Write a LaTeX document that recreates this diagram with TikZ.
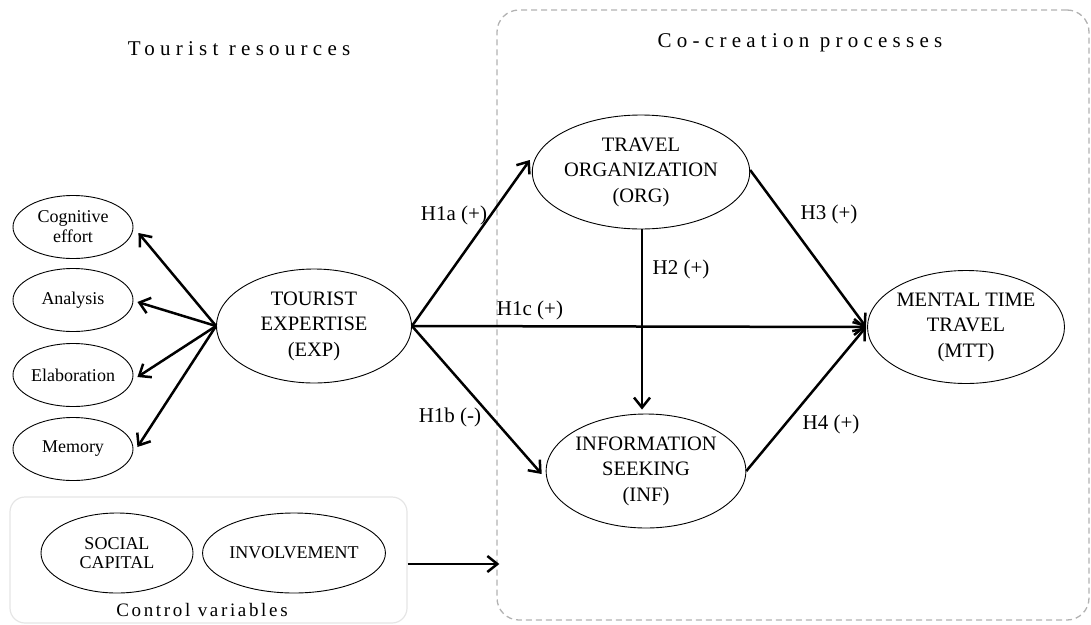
\documentclass[tikz,border=0pt]{standalone}
\usepackage{fontspec}
\setmainfont{Liberation Serif}
\newfontfamily\spacedfont[LetterSpace=25]{Liberation Serif}
\newfontfamily\spacedsmall[LetterSpace=14]{Liberation Serif}
\usetikzlibrary{shapes.geometric,arrows.meta,calc}
\begin{document}
\begin{tikzpicture}[x=1pt,y=-1pt,
  big/.style={ellipse,draw,line width=0.9pt,inner sep=0pt,minimum width=195,minimum height=114,align=center,font=\fontsize{20.5}{25.5}\selectfont},
  small/.style={ellipse,draw,line width=0.9pt,inner sep=0pt,minimum width=120,minimum height=63,align=center,font=\fontsize{18}{20}\selectfont},
  ctrl/.style={ellipse,draw,line width=0.9pt,inner sep=0pt,minimum width=153,minimum height=80,align=center,font=\fontsize{18}{18.5}\selectfont},
  hyp/.style={inner sep=0pt,font=\fontsize{21}{24}\selectfont},
  heading/.style={inner sep=0pt,font=\fontsize{21}{24}\spacedfont},
  arr/.style={line width=2.5pt,-{Straight Barb[length=10pt,width=16pt]}},
  dashbox/.style={draw=black!30,line width=1.3pt,dash pattern=on 6pt off 4pt,rounded corners=22pt,inner sep=0pt},
  ctrlbox/.style={draw=black!10,line width=1.2pt,rounded corners=15pt,inner sep=0pt}
]
\useasboundingbox (0,0) rectangle (1091,624);

% frames
\node[dashbox,minimum width=592,minimum height=610] (cc) at (793,315) {};
\node[ctrlbox,minimum width=397,minimum height=126] (cv) at (208.5,560) {};

% headings
\node[heading] (th) at (239,49) {Tourist resources};
\node[heading] (ch) at (800,43) {Co-creation processes};
\node[inner sep=0pt,font=\fontsize{19}{22}\spacedsmall] (cvl) at (202,610) {Control variables};

% left indicators
\node[small] (cog) at (73,227) {Cognitive\\effort};
\node[small] (ana) at (73,300) {Analysis};
\node[small] (ela) at (73,375) {Elaboration};
\node[small] (mem) at (73,449) {Memory};

% main constructs
\node[big] (exp) at (314,326) {TOURIST\\EXPERTISE\\(EXP)};
\node[big] (org) at (641,172) {TRAVEL\\ORGANIZATION\\(ORG)};
\node[big] (inf) at (646,471) {INFORMATION\\SEEKING\\(INF)};
\node[big,minimum width=197,minimum height=113] (mtt) at (966,327) {MENTAL TIME\\TRAVEL\\(MTT)};

% control variables
\node[ctrl,minimum width=152] (soc) at (117,553) {SOCIAL\\CAPITAL};
\node[ctrl] (inv) at (294,553) {INVOLVEMENT};

% indicator arrows
\draw[arr] (exp.west) -- ([shift={(5,6)}]cog.east);
\draw[arr] (exp.west) -- ([shift={(4,2)}]ana.east);
\draw[arr] (exp.west) -- ([shift={(4,2)}]ela.east);
\draw[arr] (exp.west) -- ([shift={(4,-2)}]mem.east);

% structural paths
\draw[arr] (exp.east) -- ([shift={(-2,-12)}]org.west);
\draw[arr] (exp.east) -- ([shift={(-1,0)}]mtt.west);
\draw[arr] (exp.east) -- ([shift={(-4,3)}]inf.west);
\draw[arr] ([xshift=1pt]org.south) -- ([shift={(1,-4)}]org.south |- inf.north);
\draw[arr] ([shift={(0,-2)}]org.east) -- ([shift={(-1,0)}]mtt.west);
\draw[arr] (inf.east) -- ([shift={(-1,0)}]mtt.west);
\draw[arr] (cv.east |- 0,564) -- ([xshift=3pt]cc.west |- 0,564);

% hypothesis labels
\node[hyp] (h1a) at (454,215) {H1a (+)};
\node[hyp] (h1b) at (450,417) {H1b (-)};
\node[hyp] (h1c) at (530,310) {H1c (+)};
\node[hyp] (h2) at (681,269) {H2 (+)};
\node[hyp] (h3) at (829,214) {H3 (+)};
\node[hyp] (h4) at (831,424) {H4 (+)};
\end{tikzpicture}
\end{document}
